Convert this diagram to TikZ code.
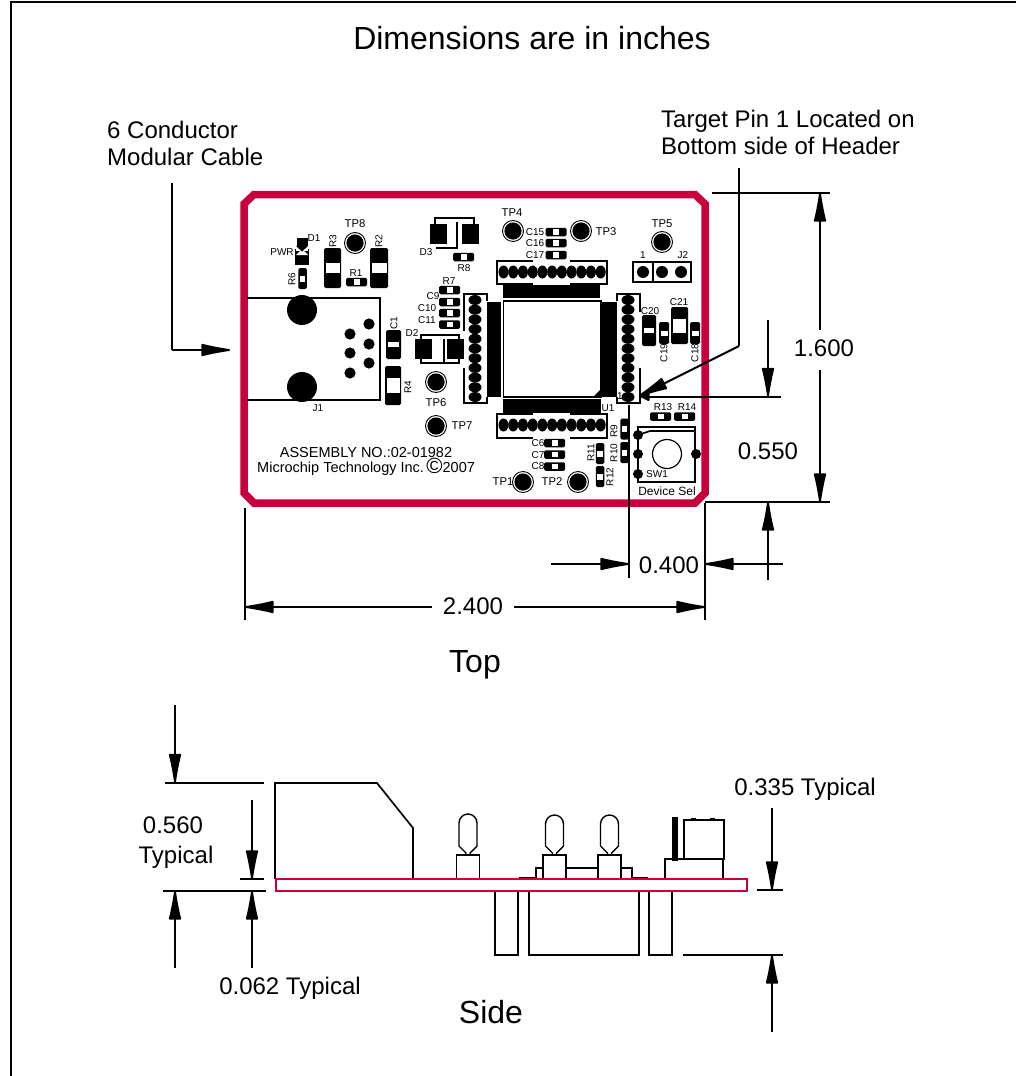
\documentclass[tikz,border=0pt]{standalone}
\usepackage{fontspec}
\setmainfont{Liberation Sans}
\usetikzlibrary{arrows.meta}
\definecolor{boardred}{HTML}{C8003C}
\tikzset{
  big/.style={font=\fontsize{32}{34}\selectfont,inner sep=0pt},
  mid/.style={font=\fontsize{24}{26}\selectfont,inner sep=0pt},
  sm/.style={font=\fontsize{10}{11}\selectfont,inner sep=0pt},
  tpl/.style={font=\fontsize{11.3}{12}\selectfont,inner sep=0pt},
  silk/.style={font=\fontsize{14.5}{16}\selectfont,inner sep=0pt,text height=10pt,text depth=0pt},
  ln/.style={line width=2pt,black,line cap=butt,line join=miter},
  dim/.style={ln,-{Latex[length=36pt,width=13pt,round=false]}},
  dimshort/.style={ln,-{Latex[length=12pt,width=11pt,round=false]}},
  outl/.style={line width=1.7pt,black,line join=miter},
  red/.style={draw=boardred,line join=miter},
}
\newcommand\smd[6]{\fill[black] ({#1-#3/2+1.5},{#2-#4/2}) -- ({#1+#3/2-1.5},{#2-#4/2}) -- ({#1+#3/2},{#2-#4/2+1.5}) -- ({#1+#3/2},{#2+#4/2-1.5}) -- ({#1+#3/2-1.5},{#2+#4/2}) -- ({#1-#3/2+1.5},{#2+#4/2}) -- ({#1-#3/2},{#2+#4/2-1.5}) -- ({#1-#3/2},{#2-#4/2+1.5}) -- cycle;
  \fill[white] ({#1-#5/2},{#2-#6/2}) rectangle ({#1+#5/2},{#2+#6/2});}
\newcommand\hres[2]{\smd{#1}{#2}{21}{8.5}{6}{5.5}}
\newcommand\vres[2]{\smd{#1}{#2}{8.5}{21}{5.5}{6}}
\newcommand\tpt[2]{\draw[black,line width=0.9pt] (#1,#2) circle[radius=10.5];\fill[black] (#1,#2) circle[radius=8.6];}
\newcommand\lb[5][sm]{\node[#1] (#2) at (#3,#4) {#5};}
\newcommand\lbr[4]{\node[sm,rotate=90] (#1) at (#2,#3) {#4};}
\newcommand\probe[2]{% cx, top of oval
  \draw[line width=1.4pt,black] ({#1-2},855) -- ({#1-2},853) -- ({#1-9},846) -- ({#1-9},{#2+9}) arc[start angle=180,end angle=360,radius=9] -- ({#1+9},846) -- ({#1+2},853) -- ({#1+2},855);
  \draw[outl] ({#1-11.5},879) -- ({#1-11.5},855) -- ({#1+11.5},855) -- ({#1+11.5},879);}
\begin{document}
\begin{tikzpicture}[x=1pt,y=-1pt]
\useasboundingbox (0,0) rectangle (1016,1076);
\fill[white] (0,0) rectangle (1016,1076);
% page frame
\draw[line width=1.3pt,black] (11,1076) -- (11,2) -- (1016,2);
% board
\draw[red,line width=7.5pt] (244,204) -- (254,194.5) -- (695,194.5) -- (705,204) -- (705,493) -- (695,503) -- (254,503) -- (244,493) -- cycle;
% J1
\draw[outl,line width=2pt] (247,298) -- (380,298) -- (380,400) -- (247,400);
\fill[black] (302,310) circle[radius=15] (302,387) circle[radius=15];
\foreach \a/\b in {369/324,350/334,369/344,350/353,369/363,350/373} \fill[black] (\a,\b) circle[radius=5.6];
\lb{j1}{318}{408}{J1}
% D1
\fill[black] (295,249) rectangle (309,265);
\fill[black] (297,238) rectangle (308,249);
\fill[white] (296,246) rectangle (308,251);
\fill[white] (296,255) -- (308,255) -- (302,249) -- cycle;
\fill[black] (296,246) -- (308,246) -- (302,251.5) -- cycle;
\lb{pwr}{282}{252}{PWR}
\lb{d1}{314}{238}{D1}
% resistors top left
\vres{302.5}{278.5}
\lbr{r6}{292}{279}{R6}
\smd{332.5}{268}{17}{40}{14}{10}
\lbr{r3}{333}{241}{R3}
\smd{379}{268}{18}{40}{15}{10}
\lbr{r2}{379}{241}{R2}
\hres{356.5}{282}
\lb{r1}{356}{273}{R1}
\tpt{355}{243}
\lb[tpl]{tp8}{355}{224}{TP8}
% D3
\fill[black] (430,224) rectangle (447,244);
\fill[black] (462,224) rectangle (479,244);
\draw[outl] (435,224) -- (435,218) -- (474,218) -- (474,224);
\draw[outl] (436,248) -- (457,248) -- (457,222);
\lb{d3}{426}{252}{D3}
\hres{463.5}{257}
\lb{r8}{464}{268}{R8}
% C9..C11, R7
\hres{449.5}{290}
\hres{449.5}{302}
\hres{449.5}{313}
\hres{449.5}{324.5}
\lb{r7}{449}{281}{R7}
\lb{c9}{433}{296}{C9}
\lb{c10}{427}{308}{C10}
\lb{c11}{427}{320}{C11}
% C1, R4
\smd{393.5}{344.5}{15}{29}{11}{5}
\lbr{c1}{394}{323}{C1}
\smd{393}{385.5}{16}{39}{13}{15}
\lbr{r4}{408}{387}{R4}
% D2
\fill[black] (415,339) rectangle (432,359);
\fill[black] (447,339) rectangle (464,359);
\draw[outl] (421,339) -- (421,335) -- (459,335) -- (459,339);
\draw[outl] (421,359) -- (421,363) -- (459,363) -- (459,359);
\draw[outl] (444,339) -- (444,363);
\lb{d2}{412}{333}{D2}
\tpt{436}{382}
\lb[tpl]{tp6}{436}{403}{TP6}
\tpt{436}{426}
\lb[tpl]{tp7}{462}{426}{TP7}
% silk text
\node[silk,anchor=base] (asm) at (366,457) {ASSEMBLY NO.:02-01982};
\node[silk,anchor=base west] (mtek) at (257,472) {Microchip Technology Inc.\,\smash{\raisebox{-1.2pt}{\fontsize{22}{22}\selectfont ©}}2007};
% U1 package
\fill[black] (503,285) rectangle (600,298);
\fill[black] (503,399) rectangle (601,413);
\fill[black] (487,302) rectangle (501,397);
\fill[black] (602,302) rectangle (617,397);
\draw[line width=1.4pt,black] (503.5,301) rectangle (601,397);
\fill[black] (601,389) -- (601,397) -- (593,397) -- cycle;
\lb{u1}{608}{408}{U1}
% left header
\draw[outl] (464,331) -- (464,294) -- (487,294) -- (487,301);
\draw[outl] (464,368) -- (464,403) -- (487,403) -- (487,397);
\foreach \i in {0,...,10} \fill[black] (475,{300+9.7*\i}) ellipse[x radius=6.5,y radius=5];
% right header
\draw[outl] (640,312) -- (640,294) -- (617,294) -- (617,301);
\draw[outl] (640,368) -- (640,403) -- (617,403) -- (617,397);
\foreach \i in {0,...,10} \fill[black] (628,{300+9.7*\i}) ellipse[x radius=6.5,y radius=5];
\fill[white] (617.8,390) rectangle (621,402);
\lb{pin1}{620}{396}{1}
% top header
\draw[outl] (533,261) -- (497,261) -- (497,284) -- (533,284);
\draw[outl] (570,261) -- (607,261) -- (607,284) -- (570,284);
\foreach \i in {0,...,10} \fill[black] ({503.5+9.72*\i},272) ellipse[x radius=5,y radius=6.5];
% bottom header
\draw[outl] (533,414) -- (497,414) -- (497,438) -- (533,438);
\draw[outl] (570,414) -- (607,414) -- (607,438) -- (570,438);
\foreach \i in {0,...,10} \fill[black] ({503.5+9.72*\i},425) ellipse[x radius=5,y radius=6.5];
% top caps
\hres{556}{232}
\hres{556}{243}
\hres{556}{255}
\lb{c15}{535}{232}{C15}
\lb{c16}{535}{243}{C16}
\lb{c17}{535}{255}{C17}
\tpt{513}{231}
\lb[tpl]{tp4}{512}{213}{TP4}
\tpt{581}{231}
\lb[tpl]{tp3}{606}{232}{TP3}
\tpt{662}{242}
\lb[tpl]{tp5}{662}{224}{TP5}
% J2
\draw[outl] (633,262) rectangle (691,282);
\draw[outl] (653,262) -- (653,282);
\foreach \a in {643,662,681} \fill[black] (\a,272) circle[radius=6];
\lb{j2a}{643}{255}{1}
\lb{j2}{683}{255}{J2}
% right caps
\smd{649}{330.5}{14}{31}{10}{5}
\lb{c20}{650}{311}{C20}
\smd{664}{333}{10}{22}{7}{5}
\lbr{c19}{664}{353}{C19}
\smd{679.5}{325.5}{17}{37}{13}{14}
\lb{c21}{679}{302}{C21}
\smd{695}{333}{10}{22}{7}{5}
\lbr{c18}{695}{353}{C18}
% bottom right
\hres{660.5}{416.5}
\lb{r13}{663}{407}{R13}
\hres{684.5}{416.5}
\lb{r14}{687}{407}{R14}
\vres{624.5}{429}
\lbr{r9}{614}{431}{R9}
\vres{624.5}{452.5}
\lbr{r10}{614}{453}{R10}
\vres{600}{453.5}
\lbr{r11}{591}{453}{R11}
\vres{600}{476.5}
\lbr{r12}{610}{477}{R12}
\hres{554.5}{443}
\hres{554.5}{454.5}
\hres{554.5}{466.5}
\lb{c6}{538}{443}{C6}
\lb{c7}{538}{455}{C7}
\lb{c8}{538}{466}{C8}
\tpt{523}{482}
\lb[tpl]{tp1}{503}{482}{TP1}
\tpt{578}{482}
\lb[tpl]{tp2}{552}{482}{TP2}
% SW1
\draw[outl] (638,482) -- (638,427) -- (695,427) -- (695,482) -- cycle;
\draw[outl] (638,435) -- (650,431) -- (695,431);
\draw[line width=1.2pt,black] (667,454) circle[radius=14.5];
\foreach \a/\b in {638/435,638/454,638/474,696/454} \fill[black] (\a,\b) circle[radius=5];
\lb{sw1}{657}{474}{SW1}
\node[sm,font=\fontsize{12}{13}\selectfont] (devsel) at (667,491) {Device Sel};
% texts
\lb[big]{title}{532}{38}{Dimensions are in inches}
\node[mid,anchor=west] (cab1) at (107,130) {6 Conductor};
\node[mid,anchor=west] (cab2) at (107,157) {Modular Cable};
\node[mid,anchor=west] (pin1a) at (661,121.5) {Target Pin 1 Located on};
\node[mid,anchor=west] (pin1b) at (661,146) {Bottom side of Header};
\lb[mid]{d160}{824}{348}{1.600}
\lb[mid]{d055}{768}{451}{0.550}
\lb[mid]{d040}{669}{565}{0.400}
\lb[mid]{d240}{473}{606}{2.400}
\lb[big]{top}{475}{664.5}{Top}
\lb[mid]{d056}{173}{825}{0.560}
\lb[mid]{typ}{176}{857}{Typical}
\lb[mid]{d062}{290}{988}{0.062 Typical}
\lb[mid]{d335}{805}{789}{0.335 Typical}
\lb[big]{side}{491}{1012}{Side}
% dimension lines, top view
\coordinate (cab) at (230,350);
\draw[ln] (172,183) -- (172,350);
\draw[dim] (172,350) -- (cab);
\coordinate (pintip) at (639,396);
\draw[ln] (739,168) -- (739,346);
\draw[dim] (739,346) -- (pintip);
\draw[dimshort] (781,396.5) -- (640,396.5);
\draw[dim] (768,320) -- (768,396.5);
\draw[ln] (712,193) -- (830,193);
\draw[ln] (705,502) -- (830,502);
\draw[dim] (820,330) -- (820,193);
\draw[dim] (820,370) -- (820,502);
\draw[dim] (768,580) -- (768,502);
\draw[ln] (629,405) -- (629,578);
\draw[ln] (705,503) -- (705,620);
\draw[ln] (245,508) -- (245,620);
\draw[dim] (551,564) -- (629,564);
\draw[dim] (783,564) -- (705,564);
\draw[dim] (432,607) -- (245,607);
\draw[dim] (514,607) -- (705,607);
% side view
\draw[outl] (413,879) -- (413,828) -- (377,783) -- (275,783) -- (275,879);
\probe{468}{814}
\probe{554.5}{815}
\probe{609.5}{815}
\draw[outl] (566,868) -- (598,868);
\draw[outl] (543,868) -- (536,868) -- (536,879);
\draw[outl] (621,868) -- (632,868) -- (632,877.5);
\draw[line width=2pt,black] (519,877.5) -- (536,877.5);
\draw[line width=2pt,black] (632,877.5) -- (648,877.5);
\draw[outl] (665,879) -- (665,859) -- (723,859) -- (723,879);
\draw[outl] (684,859) -- (684,820) -- (724,820) -- (724,859) -- (723,859);
\fill[black] (691,817.5) rectangle (696,820);
\fill[black] (710,817.5) rectangle (715,820);
\fill[black] (672,817) rectangle (678,861);
\draw[outl] (495,891) -- (495,955) -- (518,955) -- (518,891);
\draw[outl] (529,891) -- (529,955) -- (639,955) -- (639,891);
\draw[outl] (649,891) -- (649,955) -- (672,955) -- (672,891);
\draw[red,line width=1.8pt] (276,879) rectangle (747,891);
\draw[ln] (165,782.5) -- (264,782.5);
\draw[ln] (240,879) -- (264,879);
\draw[ln] (163,891) -- (266,891);
\draw[dim] (175,705) -- (175,782.5);
\draw[dim] (175,968) -- (175,891);
\draw[dim] (252,800) -- (252,879);
\draw[dim] (252,968) -- (252,891);
\draw[ln] (757,890) -- (783,890);
\draw[ln] (683,955) -- (783,955);
\draw[dim] (772,808) -- (772,890);
\draw[dim] (772,1032) -- (772,955);
\end{tikzpicture}
\end{document}
